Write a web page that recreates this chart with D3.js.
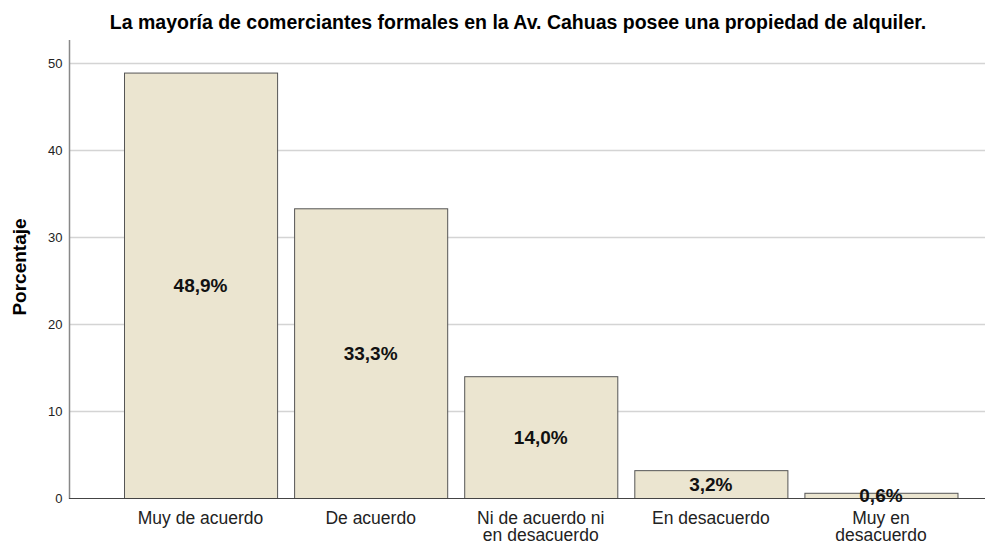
<!DOCTYPE html>
<html>
<head>
<meta charset="UTF-8">
<title>bar</title>
<script src="https://cdn.jsdelivr.net/npm/d3@7"></script>
<style>
  body { margin: 0; background: #fff; }
  text { font-family: "Liberation Sans", Arial, sans-serif; }
</style>
</head>
<body>
<div class="svg-zone"></div>
<script>
  // respuestas y porcentajes
  const categories = ["Muy de acuerdo", "De acuerdo", "Ni de acuerdo ni en desacuerdo", "En desacuerdo", "Muy en desacuerdo"];
  const catLines = [["Muy de acuerdo"], ["De acuerdo"], ["Ni de acuerdo ni", "en desacuerdo"], ["En desacuerdo"], ["Muy en", "desacuerdo"]];
  const values = [48.9, 33.3, 14.0, 3.2, 0.6];
  const yTicks = [0, 10, 20, 30, 40, 50];

  const width = 998, height = 544;

  const x = d3.scaleBand()
    .domain(categories)
    .range([115.5, 966])
    .paddingInner(0.1)
    .paddingOuter(0.05);

  const y = d3.scaleLinear()
    .domain([0, 50])
    .range([498, 63]);

  const svg = d3.select(".svg-zone").append("svg")
    .attr("width", width)
    .attr("height", height);

  // grid
  svg.append("g")
    .selectAll("line")
    .data(yTicks.slice(1))
    .enter().append("line")
    .attr("x1", 69).attr("x2", 985)
    .attr("y1", d => y(d) + 0.5).attr("y2", d => y(d) + 0.5)
    .attr("stroke", "#d4d4d4")
    .attr("stroke-width", 1.5);

  // bars
  svg.append("g")
    .selectAll("rect")
    .data(values)
    .enter().append("rect")
    .attr("x", (d, i) => x(categories[i]) + 0.5)
    .attr("y", d => y(d) + 0.5)
    .attr("width", x.bandwidth())
    .attr("height", d => y(0) - y(d))
    .attr("fill", "#ebe5d0")
    .attr("stroke", "#555")
    .attr("stroke-width", 1);

  // y axis
  const yAxis = svg.append("g")
    .attr("transform", "translate(69.5,0)")
    .call(d3.axisLeft(y).tickValues(yTicks).tickSize(0).tickPadding(7));
  yAxis.select(".domain").remove();
  yAxis.selectAll("text").attr("font-size", 13).attr("fill", "#222")
    .style("font-family", "Liberation Sans, Arial, sans-serif");
  svg.append("line")
    .attr("x1", 69.5).attr("x2", 69.5)
    .attr("y1", 40).attr("y2", 499)
    .attr("stroke", "#888").attr("stroke-width", 1.5);

  // x axis
  svg.append("line")
    .attr("x1", 69).attr("x2", 985)
    .attr("y1", y(0) + 0.5).attr("y2", y(0) + 0.5)
    .attr("stroke", "#444").attr("stroke-width", 1.2);

  const xl = svg.append("g")
    .selectAll("text")
    .data(catLines)
    .enter().append("text")
    .attr("x", (d, i) => x(categories[i]) + x.bandwidth() / 2)
    .attr("y", 524)
    .attr("text-anchor", "middle")
    .attr("font-size", 17.5)
    .attr("fill", "#222");
  xl.selectAll("tspan")
    .data(d => d)
    .enter().append("tspan")
    .attr("x", function () { return d3.select(this.parentNode).attr("x"); })
    .attr("dy", (d, i) => i === 0 ? 0 : 16.5)
    .text(d => d);

  // value labels
  svg.append("g")
    .selectAll("text")
    .data(values)
    .enter().append("text")
    .attr("x", (d, i) => x(categories[i]) + x.bandwidth() / 2)
    .attr("y", d => (y(d) + y(0)) / 2 + 7)
    .attr("text-anchor", "middle")
    .attr("font-size", 19)
    .attr("font-weight", "bold")
    .attr("fill", "#111")
    .text(d => d.toFixed(1).replace(".", ",") + "%");

  // y title
  svg.append("text")
    .attr("transform", "translate(26,267) rotate(-90)")
    .attr("text-anchor", "middle")
    .attr("font-size", 19)
    .attr("font-weight", "bold")
    .text("Porcentaje");

  // title
  svg.append("text")
    .attr("x", 518)
    .attr("y", 29)
    .attr("text-anchor", "middle")
    .attr("font-size", 19.5)
    .attr("font-weight", "bold")
    .text("La mayoría de comerciantes formales en la Av. Cahuas posee una propiedad de alquiler.");
</script>
</body>
</html>
